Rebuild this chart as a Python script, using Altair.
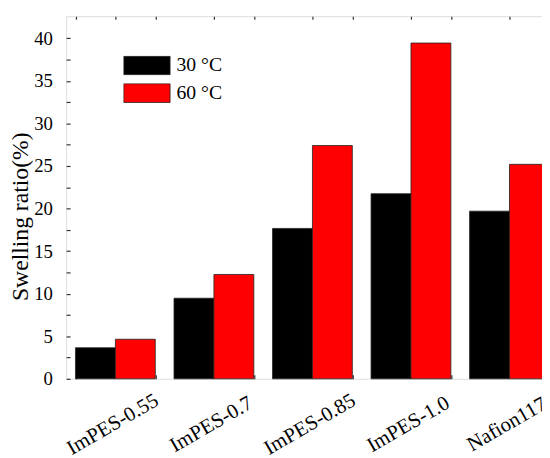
import altair as alt
import pandas as pd

categories = ["ImPES-0.55", "ImPES-0.7", "ImPES-0.85", "ImPES-1.0", "Nafion117"]
series = ["30 °C", "60 °C"]
t30 = [3.65, 9.47, 17.67, 21.75, 19.7]
t60 = [4.65, 12.26, 27.41, 39.45, 25.2]
y_ticks = [0, 2.5, 5, 7.5, 10, 12.5, 15, 17.5, 20, 22.5, 25, 27.5, 30, 32.5, 35, 37.5, 40]

rows = []
for c, a, b in zip(categories, t30, t60):
    rows.append({"cat": c, "series": series[0], "value": a})
    rows.append({"cat": c, "series": series[1], "value": b})
df = pd.DataFrame(rows)

FONT = "Times New Roman, Liberation Serif, serif"

xscale = alt.Scale(range=[0, 500], paddingInner=0.19, paddingOuter=0.095)
yscale = alt.Scale(domain=[0, 42.6], nice=False)

bars = alt.Chart(df).mark_bar(stroke="#222", strokeWidth=0.8).encode(
    x=alt.X(
        "cat:N",
        sort=categories,
        title=None,
        scale=xscale,
        axis=alt.Axis(
            labelAngle=330,
            labelAlign="center",
            labelBaseline="middle",
            labelPadding=46,
            labelOffset=-3,
            labelFont=FONT,
            labelFontSize=21,
            labelColor="black",
            tickBand="extent",
            tickSize=4,
            tickColor="#333",
            tickWidth=1.2,
            offset=-4,
            domain=False,
        ),
    ),
    xOffset=alt.XOffset("series:N", sort=series, scale=alt.Scale(paddingInner=0, paddingOuter=0)),
    y=alt.Y(
        "value:Q",
        title="Swelling ratio(%)",
        scale=yscale,
        axis=alt.Axis(
            values=y_ticks,
            labelExpr="datum.value % 5 == 0 ? datum.label : ''",
            labelFont=FONT,
            labelFontSize=19,
            labelColor="black",
            labelPadding=14,
            tickSize=4,
            tickColor="#333",
            tickWidth=1.2,
            offset=-4,
            domain=False,
            grid=False,
            titleFont=FONT,
            titleFontSize=24,
            titleFontWeight="normal",
            titleColor="black",
            titleX=-38,
            titleY=203,
        ),
    ),
    color=alt.Color(
        "series:N",
        sort=series,
        scale=alt.Scale(domain=series, range=["#000000", "#ff0000"]),
        legend=alt.Legend(
            title=None,
            orient="none",
            legendX=58,
            legendY=40,
            symbolType="M-1,-0.404H1V0.404H-1Z",
            symbolSize=2209,
            symbolStrokeColor="#222",
            symbolStrokeWidth=0.8,
            symbolOpacity=1,
            labelFont=FONT,
            labelFontSize=20,
            labelColor="black",
            labelOffset=6,
            clipHeight=20,
            rowPadding=8,
        ),
    ),
)

top_ticks = alt.Chart(df).mark_tick(opacity=0).encode(
    x=alt.X(
        "cat:N",
        sort=categories,
        title=None,
        scale=xscale,
        axis=alt.Axis(
            orient="top",
            labels=False,
            tickBand="extent",
            tickSize=3,
            tickColor="#333",
            tickWidth=1.2,
            offset=-3,
            domain=False,
        ),
    ),
    y=alt.value(0),
)

top_ticks2 = alt.Chart(df).mark_tick(opacity=0).encode(
    x=alt.X(
        "cat:N",
        sort=categories,
        title=None,
        scale=xscale,
        axis=alt.Axis(
            orient="top",
            labels=False,
            tickSize=3,
            tickColor="#333",
            tickWidth=1.2,
            offset=-3,
            domain=False,
        ),
    ),
    y=alt.value(0),
)

chart = alt.layer(bars, top_ticks, top_ticks2).resolve_axis(x="independent").properties(
    width=483,
    height=368,
    autosize=alt.AutoSizeParams(type="none"),
    padding={"left": 59, "top": 5, "right": 0, "bottom": 77},
).configure_view(stroke="#333", strokeWidth=1.5).configure(background="white")

chart.save("out.html", embed_options={"renderer": "svg", "actions": False})
